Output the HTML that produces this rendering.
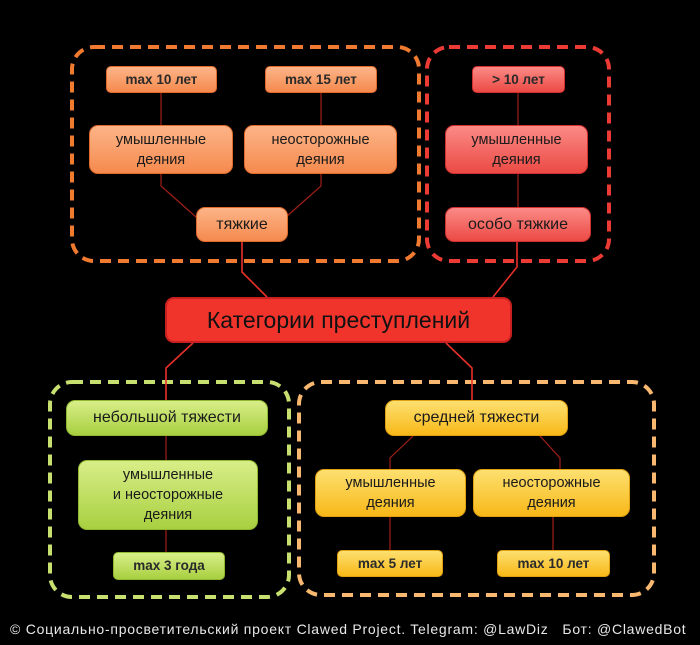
<!DOCTYPE html>
<html><head><meta charset="utf-8"><style>
body{margin:0;background:#000;width:700px;height:645px;overflow:hidden;position:relative;font-family:"Liberation Sans","DejaVu Sans",sans-serif}
.n{position:absolute;box-sizing:border-box;border-radius:9px;display:flex;align-items:center;justify-content:center;text-align:center;color:#1a1a1a;font-size:14.5px;line-height:20px}
.o{background:linear-gradient(#fdb488,#f58a4e);border:1px solid #e06a2a}
.r{background:linear-gradient(#fb8a86,#ec4a44);border:1px solid #d03030}
.g{background:linear-gradient(#d8ee88,#a8d040);border:1px solid #90b830}
.y{background:linear-gradient(#fde070,#f8b818);border:1px solid #e0a010}
.s{font-size:13.5px;border-radius:5px;font-weight:bold;color:#2a2a2a}
</style></head><body>
<svg width="700" height="645" style="position:absolute;left:0;top:0">
<g fill="none" stroke-width="4" stroke-dasharray="11 7">
<rect x="72" y="47" width="347" height="214" rx="22" stroke="#f07a30"/>
<rect x="427" y="47" width="182" height="214" rx="22" stroke="#ec3a34"/>
<rect x="50" y="382" width="239" height="215" rx="22" stroke="#c8e070"/>
<rect x="299" y="382" width="355" height="213" rx="22" stroke="#f8b870"/>
</g>
<g fill="none" stroke="#a02018" stroke-width="1.2">
<path d="M161 93V125M321 93V125M518 93V125M518 174V207M161 174V186L205 225M321 174V186L277 225"/>
<path d="M166 436V460M166 530V552"/>
<path d="M413 436L390 458V469M540 436L560 458V469M390 517V550M553 517V550"/>
</g>
<g fill="none" stroke="#e8302a" stroke-width="1.6">
<path d="M242 242V272L267 297M517 242V267L493 297M193 343L166 368V400M446 343L472 368V400"/>
</g>
</svg>
<div class="n o s" style="left:106px;top:66px;width:111px;height:27px">max 10 лет</div>
<div class="n o s" style="left:265px;top:66px;width:112px;height:27px">max 15 лет</div>
<div class="n o" style="left:89px;top:125px;width:144px;height:49px">умышленные<br>деяния</div>
<div class="n o" style="left:244px;top:125px;width:153px;height:49px">неосторожные<br>деяния</div>
<div class="n o" style="left:196px;top:207px;width:92px;height:35px;font-size:16px">тяжкие</div>
<div class="n r s" style="left:472px;top:66px;width:93px;height:27px">&gt; 10 лет</div>
<div class="n r" style="left:445px;top:125px;width:143px;height:49px">умышленные<br>деяния</div>
<div class="n r" style="left:445px;top:207px;width:146px;height:35px;font-size:16px">особо тяжкие</div>
<div class="n" style="left:165px;top:297px;width:347px;height:46px;background:#f0342c;border:2px solid #c82020;border-radius:9px;font-size:23px;color:#111">Категории преступлений</div>
<div class="n g" style="left:66px;top:400px;width:202px;height:36px;font-size:16px">небольшой тяжести</div>
<div class="n g" style="left:78px;top:460px;width:180px;height:70px">умышленные<br>и неосторожные<br>деяния</div>
<div class="n g s" style="left:113px;top:552px;width:112px;height:28px">max 3 года</div>
<div class="n y" style="left:385px;top:400px;width:183px;height:36px;font-size:16px">средней тяжести</div>
<div class="n y" style="left:315px;top:469px;width:151px;height:48px">умышленные<br>деяния</div>
<div class="n y" style="left:473px;top:469px;width:157px;height:48px">неосторожные<br>деяния</div>
<div class="n y s" style="left:337px;top:550px;width:106px;height:27px">max 5 лет</div>
<div class="n y s" style="left:497px;top:550px;width:113px;height:27px">max 10 лет</div>
<div style="position:absolute;left:10px;top:621px;color:#e8e8e8;font-size:14px;letter-spacing:0.75px;white-space:nowrap">© Социально-просветительский проект Clawed Project. Telegram: @LawDiz &nbsp; Бот: @ClawedBot</div>
</body></html>
